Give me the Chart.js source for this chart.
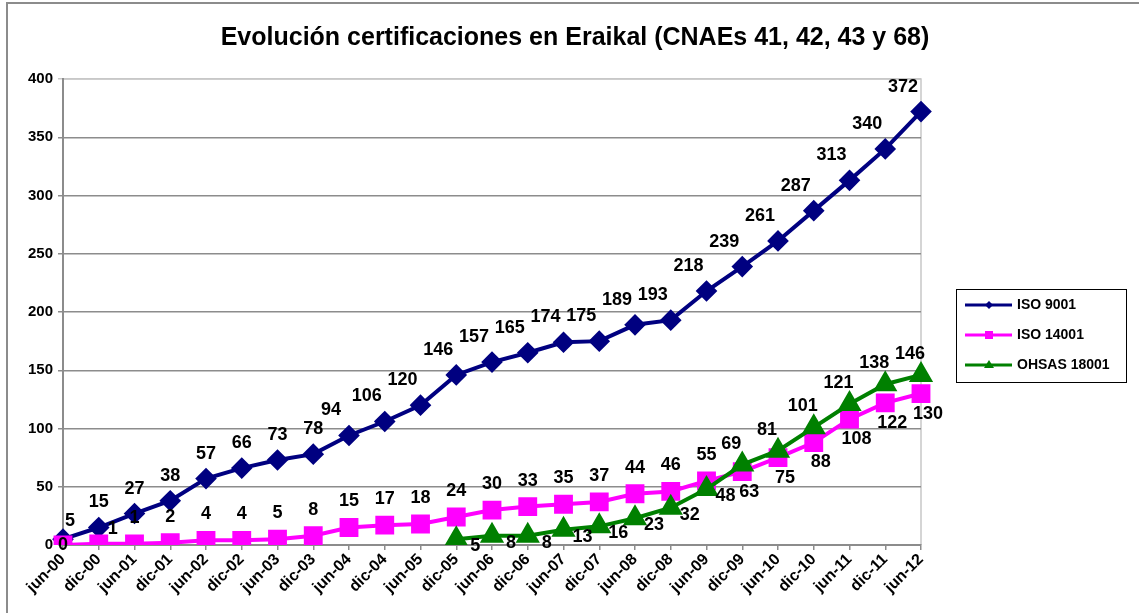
<!DOCTYPE html>
<html>
<head>
<meta charset="utf-8">
<script src="https://cdn.jsdelivr.net/npm/chart.js@4.4.1/dist/chart.umd.min.js"></script>
<style>
  html, body { margin: 0; padding: 0; background: #fff; }
  #wrap { width: 1139px; height: 613px; position: relative; }
</style>
</head>
<body>
<div id="wrap"><canvas id="chart" width="1139" height="613"></canvas></div>
<script>
// --- data ---
const periods = ["jun-00", "dic-00", "jun-01", "dic-01", "jun-02", "dic-02", "jun-03", "dic-03",
  "jun-04", "dic-04", "jun-05", "dic-05", "jun-06", "dic-06", "jun-07", "dic-07", "jun-08",
  "dic-08", "jun-09", "dic-09", "jun-10", "dic-10", "jun-11", "dic-11", "jun-12"];
const iso9001 = [5, 15, 27, 38, 57, 66, 73, 78, 94, 106, 120, 146, 157, 165, 174, 175, 189, 193,
  218, 239, 261, 287, 313, 340, 372];
const iso14001 = [0, 1, 1, 2, 4, 4, 5, 8, 15, 17, 18, 24, 30, 33, 35, 37, 44, 46, 55, 63, 75, 88,
  108, 122, 130];
const ohsas18001 = [null, null, null, null, null, null, null, null, null, null, null,
  5, 8, 8, 13, 16, 23, 32, 48, 69, 81, 101, 121, 138, 146];
const yTicks = [0, 50, 100, 150, 200, 250, 300, 350, 400];

const FONT = "'Liberation Sans', Arial, sans-serif";

// where each value label sits relative to its point
const labelPos = {
  iso9001: i => i === 0 ? [7, -18] : (i >= 8 ? [-18, -25] : [0, -25]),
  iso14001: i => i === 0 ? [0, 0] : (i === 1 ? [14, -15] : (i >= 19 ? [7, 20] : [0, -26])),
  ohsas: i => i <= 18 ? [19, 7] : [-11, -21]
};

// value labels drawn on top of the lines
const valueLabels = {
  id: 'valueLabels',
  afterDatasetsDraw(chart) {
    const ctx = chart.ctx;
    ctx.save();
    ctx.font = 'bold 18px ' + FONT;
    ctx.fillStyle = '#000';
    ctx.textAlign = 'center';
    ctx.textBaseline = 'middle';
    chart.data.datasets.forEach((ds, di) => {
      const meta = chart.getDatasetMeta(di);
      meta.data.forEach((pt, i) => {
        const v = ds.data[i];
        if (v === null || v === undefined) return;
        const [dx, dy] = ds.labelOffset(i);
        ctx.fillText(String(v), pt.x + dx, pt.y + dy);
      });
    });
    ctx.restore();
  }
};

// frame, title and legend box
const decor = {
  id: 'decor',
  beforeDraw(chart) {
    const ctx = chart.ctx;
    ctx.save();
    ctx.fillStyle = '#fff';
    ctx.fillRect(0, 0, chart.width, chart.height);
    ctx.strokeStyle = '#8c8c8c';
    ctx.lineWidth = 2;
    ctx.beginPath();
    ctx.moveTo(7, chart.height);
    ctx.lineTo(7, 3);
    ctx.lineTo(chart.width, 3);
    ctx.stroke();
    // light plot border on top/right
    const a = chart.chartArea;
    ctx.strokeStyle = '#c8c8c8';
    ctx.lineWidth = 1.5;
    ctx.beginPath();
    ctx.moveTo(a.left, a.top);
    ctx.lineTo(a.right, a.top);
    ctx.lineTo(a.right, a.bottom);
    ctx.stroke();
    ctx.fillStyle = '#000';
    ctx.font = 'bold 25px ' + FONT;
    ctx.textAlign = 'center';
    ctx.textBaseline = 'middle';
    ctx.fillText('Evolución certificaciones en Eraikal (CNAEs 41, 42, 43 y 68)', 575, 38);
    ctx.restore();
  },
  afterDraw(chart) {
    const ctx = chart.ctx;
    ctx.save();
    ctx.strokeStyle = '#000';
    ctx.lineWidth = 1;
    ctx.strokeRect(956.5, 289.5, 170, 93);
    ctx.font = 'bold 14px ' + FONT;
    ctx.textBaseline = 'middle';
    ctx.textAlign = 'left';
    chart.data.datasets.forEach((ds, i) => {
      const y = 305 + i * 30;
      ctx.strokeStyle = ds.borderColor;
      ctx.lineWidth = 3;
      ctx.beginPath();
      ctx.moveTo(965, y);
      ctx.lineTo(1012, y);
      ctx.stroke();
      ctx.fillStyle = ds.borderColor;
      ctx.beginPath();
      if (ds.pointStyle === 'rectRot') {
        ctx.moveTo(989, y - 4); ctx.lineTo(993, y); ctx.lineTo(989, y + 4); ctx.lineTo(985, y);
      } else if (ds.pointStyle === 'rect') {
        ctx.rect(985, y - 4, 8, 8);
      } else {
        ctx.moveTo(989, y - 5); ctx.lineTo(994, y + 3); ctx.lineTo(984, y + 3);
      }
      ctx.closePath();
      ctx.fill();
      ctx.fillStyle = '#000';
      ctx.fillText(ds.label, 1017, y);
    });
    ctx.restore();
  }
};

new Chart(document.getElementById('chart'), {
  type: 'line',
  data: {
    labels: periods,
    datasets: [
      {
        label: 'ISO 9001', data: iso9001, order: 3,
        borderColor: '#000080', backgroundColor: '#000080',
        borderWidth: 4, pointStyle: 'rectRot', pointRadius: 8,
        labelOffset: labelPos.iso9001
      },
      {
        label: 'ISO 14001', data: iso14001, order: 2,
        borderColor: '#FF00FF', backgroundColor: '#FF00FF',
        borderWidth: 4, pointStyle: 'rect', pointRadius: 10.5,
        labelOffset: labelPos.iso14001
      },
      {
        label: 'OHSAS 18001', data: ohsas18001, order: 1,
        borderColor: '#008000', backgroundColor: '#008000',
        borderWidth: 4, pointStyle: 'triangle', pointRadius: 10,
        labelOffset: labelPos.ohsas
      }
    ]
  },
  options: {
    responsive: false,
    animation: false,
    layout: { padding: { top: 79, right: 218, left: 0, bottom: 0 } },
    elements: { line: { tension: 0 }, point: { borderWidth: 0 } },
    plugins: { legend: { display: false }, title: { display: false }, tooltip: { enabled: false } },
    scales: {
      x: {
        offset: false,
        afterFit(s) { s.height = 68; },
        grid: { drawOnChartArea: false, color: '#8c8c8c', lineWidth: 1.5, tickLength: 5 },
        border: { color: '#8c8c8c', width: 2 },
        ticks: {
          color: '#000', font: { family: FONT, weight: 'bold', size: 16 },
          minRotation: 45, maxRotation: 45, padding: 0, autoSkip: false
        }
      },
      y: {
        min: 0, max: 400,
        afterFit(s) { s.width = 63; },
        afterBuildTicks(s) { s.ticks = yTicks.map(v => ({ value: v })); },
        grid: {
          color: c => c.tick && c.tick.value === 400 ? '#c8c8c8' : '#8c8c8c',
          lineWidth: 1.5, tickLength: 5
        },
        border: { color: '#8c8c8c', width: 2 },
        ticks: { color: '#000', font: { family: FONT, weight: 'bold', size: 15 }, padding: 5 }
      }
    }
  },
  plugins: [decor, valueLabels]
});
</script>
</body>
</html>
